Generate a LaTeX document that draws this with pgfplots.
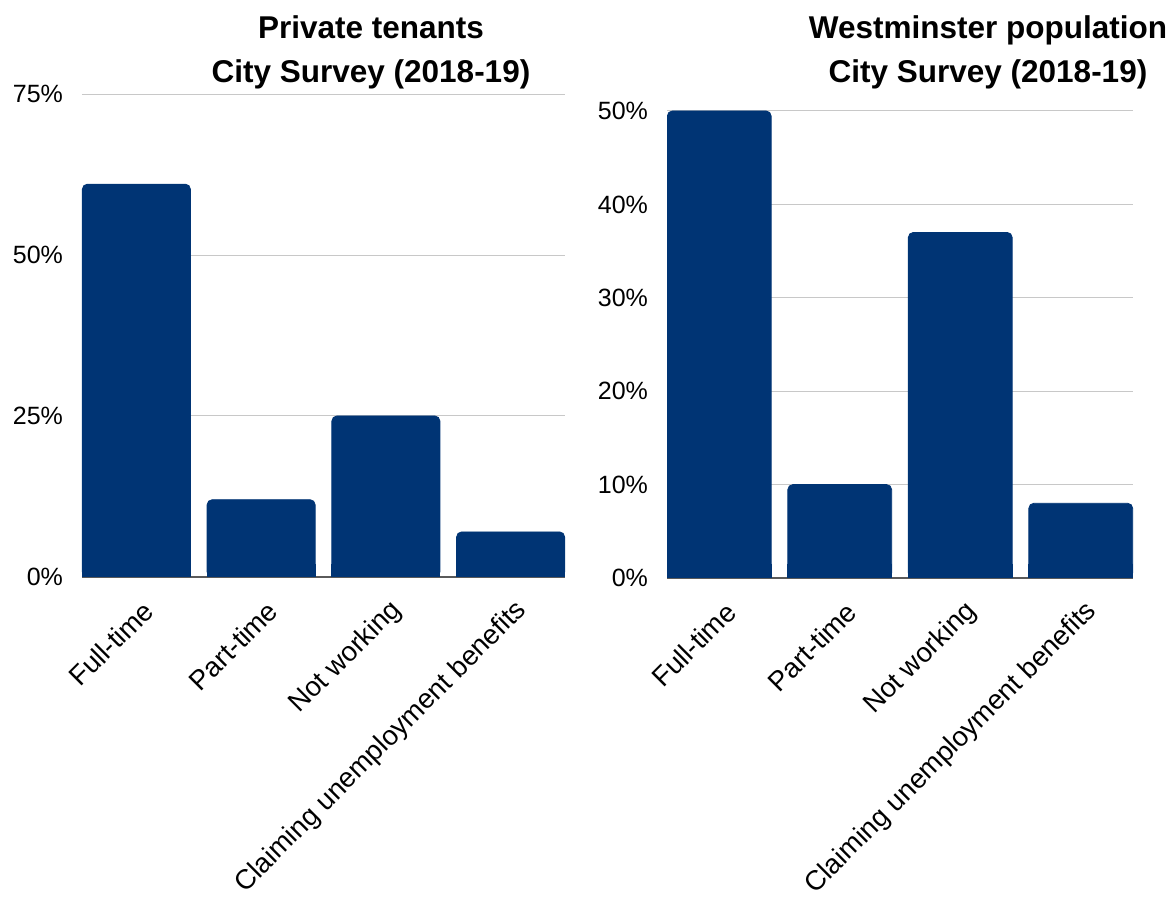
\documentclass[border=0pt]{standalone}
\usepackage{fontspec}
\setmainfont{Liberation Sans}
\usepackage{pgfplots}
\pgfplotsset{compat=1.18}
\usepackage{pgfplotstable}
\definecolor{barblue}{RGB}{0,52,116}
\definecolor{gridgray}{RGB}{200,200,200}
\definecolor{basegray}{RGB}{90,90,90}

\pgfplotstableread{
x v
0 61
1 12
2 25
3 7
}\tenants
\pgfplotstableread{
x v
0 50
1 10
2 37
3 8
}\population

\pgfplotsset{
  mybars/.style={
    scale only axis,
    anchor=south west,
    axis x line*=bottom,
    axis y line*=left,
    y axis line style={draw=none},
    x axis line style={draw=basegray, line width=0.6pt},
    major tick length=0pt,
    ymajorgrids,
    grid style={gridgray, line width=0.5pt},
    ymin=0,
    xtick={0,1,2,3},
    xticklabels={Full-time, Part-time, Not working, Claiming unemployment benefits},
    x tick label style={font=\fontsize{13.75}{16}\selectfont, xshift=6pt, yshift=-0.5pt, rotate=45, anchor=east, inner sep=0pt},
    xticklabel shift=14pt,
    /pgf/number format/assume math mode=true,
    yticklabel={\pgfmathprintnumber{\tick}\%},
    y tick label style={font=\fontsize{12.5}{15}\selectfont, xshift=-6pt},
  },
  roundbar/.style={ybar, bar shift=0pt, fill=barblue, draw=barblue, line width=0.4pt, rounded corners=2.5pt},
  flatbar/.style={ybar, bar shift=0pt, fill=barblue, draw=barblue, line width=0.4pt},
}

\begin{document}
\begin{tikzpicture}
\useasboundingbox (0,0) rectangle (584.5pt,449.5pt);

\begin{axis}[mybars,
  at={(41pt,161pt)}, width=241.5pt, height=241.5pt,
  ymax=75, ytick={0,25,50,75},
  xmin=-0.436, xmax=3.436,
  bar width=54pt]
  \addplot[roundbar] table[x=x, y=v] {\tenants};
  \addplot[flatbar] table[x=x, y expr={min(\thisrow{v},2)}] {\tenants};
\end{axis}

\begin{axis}[mybars,
  at={(333.5pt,160.5pt)}, width=233pt, height=233.5pt,
  ymax=50, ytick={0,10,20,30,40,50},
  xmin=-0.4336, xmax=3.4336,
  bar width=51.9pt]
  \addplot[roundbar] table[x=x, y=v] {\population};
  \addplot[flatbar] table[x=x, y expr={min(\thisrow{v},1.5)}] {\population};
\end{axis}

\node[font=\fontsize{15.75}{22}\selectfont\bfseries, align=center] at (185.5pt,423.5pt) {Private tenants\\City Survey (2018-19)};
\node[font=\fontsize{15.75}{22}\selectfont\bfseries, align=center] at (494pt,423.5pt) {Westminster population\\City Survey (2018-19)};
\end{tikzpicture}
\end{document}
